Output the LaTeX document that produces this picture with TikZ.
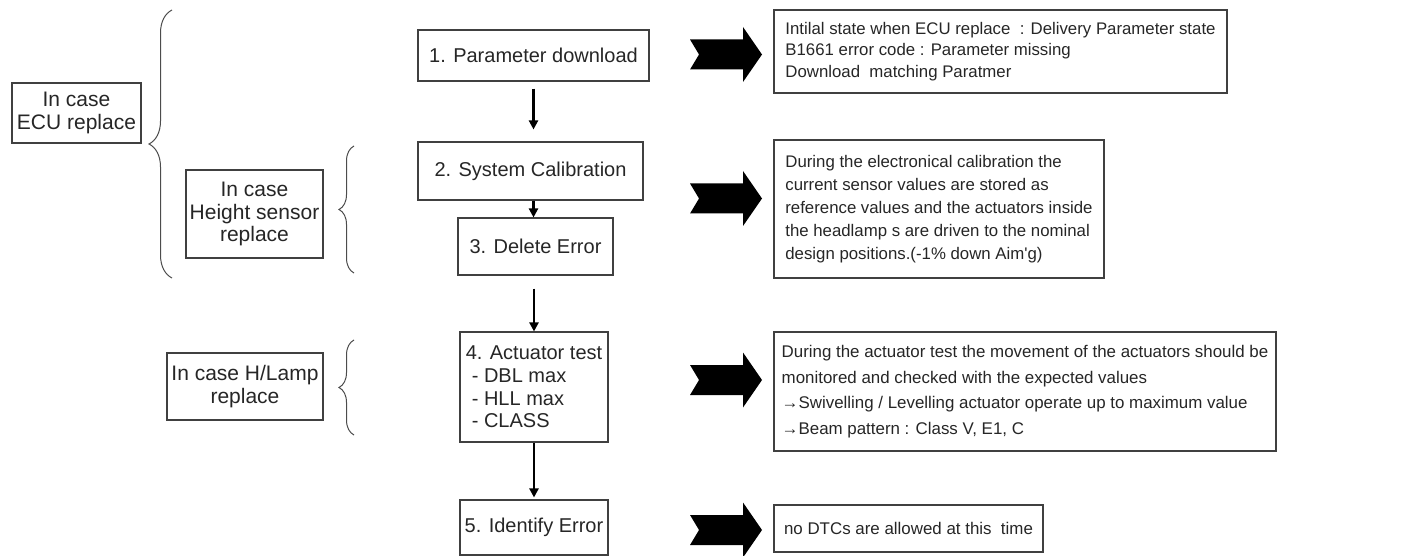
\documentclass[tikz,border=0pt]{standalone}
\usepackage{fontspec}
\setmainfont{Liberation Sans}
\usetikzlibrary{decorations.pathreplacing,arrows.meta}

\tikzset{
  box/.style={draw=black!75, line width=1.1pt, inner sep=0pt, text=black!85},
  casebox/.style={box, font=\fontsize{21}{22.5}\selectfont, align=center},
  stepbox/.style={box, font=\fontsize{20}{22.7}\selectfont, align=center},
  infobox/.style={box, align=left},
  flow/.style={line width=2.2pt, -{Triangle[length=9pt,width=9pt]}},
  curly/.style={draw=black!70, line width=1pt, decorate,
    decoration={brace, amplitude=#1}},
}

\begin{document}
\begin{tikzpicture}[x=1pt, y=-1pt]
    \useasboundingbox (0, 0) rectangle (1406, 556) ;
    % cases on the left
    \node[casebox, minimum width=129pt, minimum height=60pt] (ecu) at (76.5, 113)
      {In case\\ECU replace} ;
    \node[casebox, minimum width=137pt, minimum height=88pt] (sensor) at (254.5, 214)
      {In case\\Height sensor\\replace} ;
    \node[casebox, minimum width=156pt, minimum height=67pt] (lamp) at (245, 386.5)
      {In case H/Lamp\\replace} ;
    \draw[curly=23pt] (172, 278) -- (172, 10) ;
    \draw[curly=15pt] (354, 273) -- (354, 146) ;
    \draw[curly=15pt] (354, 435) -- (354, 340) ;
    % steps
    \node[stepbox, minimum width=231pt, minimum height=51pt] (s1) at (533.5, 55.5)
      {1. Parameter download} ;
    \node[stepbox, minimum width=225pt, minimum height=58pt] (s2) at (530.5, 171)
      {2. System Calibration} ;
    \node[stepbox, minimum width=155pt, minimum height=57pt] (s3) at (535.5, 246.5)
      {3. Delete Error} ;
    \node[stepbox, align=left, minimum width=148pt, minimum height=110pt] (s4) at (534, 387)
      {4. Actuator test\\\hspace*{6pt}- DBL max\\\hspace*{6pt}- HLL max\\\hspace*{6pt}- CLASS} ;
    \node[stepbox, minimum width=148pt, minimum height=55pt] (s5) at (534, 527.5)
      {5. Identify Error} ;
    \draw[flow, shorten <=7pt, shorten >=12pt] (s1.south) -- (s1.south |- s2.north) ;
    \draw[flow] (s1.south |- s2.south) -- (s1.south |- s3.north) ;
    \draw[flow, shorten <=13pt] (s3.south -| s4.north) -- (s4.north) ;
    \draw[flow, shorten >=2pt] (s4.south) -- (s5.north) ;
    % big arrows
    \foreach \c in {54.5, 198.5, 380, 530}
      \fill (690, \c-15) -- (743, \c-15) -- (743, \c-27.5) -- (762, \c)
        -- (743, \c+27.5) -- (743, \c+15) -- (690, \c+15) -- (699, \c) -- cycle ;
    % notes
    \node[infobox, minimum width=453pt, minimum height=83pt,
      font=\fontsize{16.8}{21.5}\selectfont] (i1) at (1000.5, 51.5)
      {Intilal state when ECU replace\ \ : Delivery Parameter state\\
       B1661 error code : Parameter missing\\
       Download\ \ matching Paratmer} ;
    \node[infobox, minimum width=330pt, minimum height=138pt,
      font=\fontsize{16.8}{23}\selectfont] (i2) at (939, 209)
      {During the electronical calibration the\\
       current sensor values are stored as\\
       reference values and the actuators inside\\
       the headlamp s are driven to the nominal\\
       design positions.(-1\% down Aim\textquotesingle g)} ;
    \node[infobox, minimum width=502pt, minimum height=119pt,
      font=\fontsize{16.9}{25.5}\selectfont] (i3) at (1025, 391.5)
      {During the actuator test the movement of the actuators should be\\
       monitored and checked with the expected values\\
       →Swivelling / Levelling actuator operate up to maximum value\\
       →Beam pattern : Class V, E1, C} ;
    \node[infobox, minimum width=269pt, minimum height=47pt,
      font=\fontsize{16.9}{21}\selectfont] (i4) at (908.5, 528.5)
      {no DTCs are allowed at this\ \ time} ;
\end{tikzpicture}
\end{document}
